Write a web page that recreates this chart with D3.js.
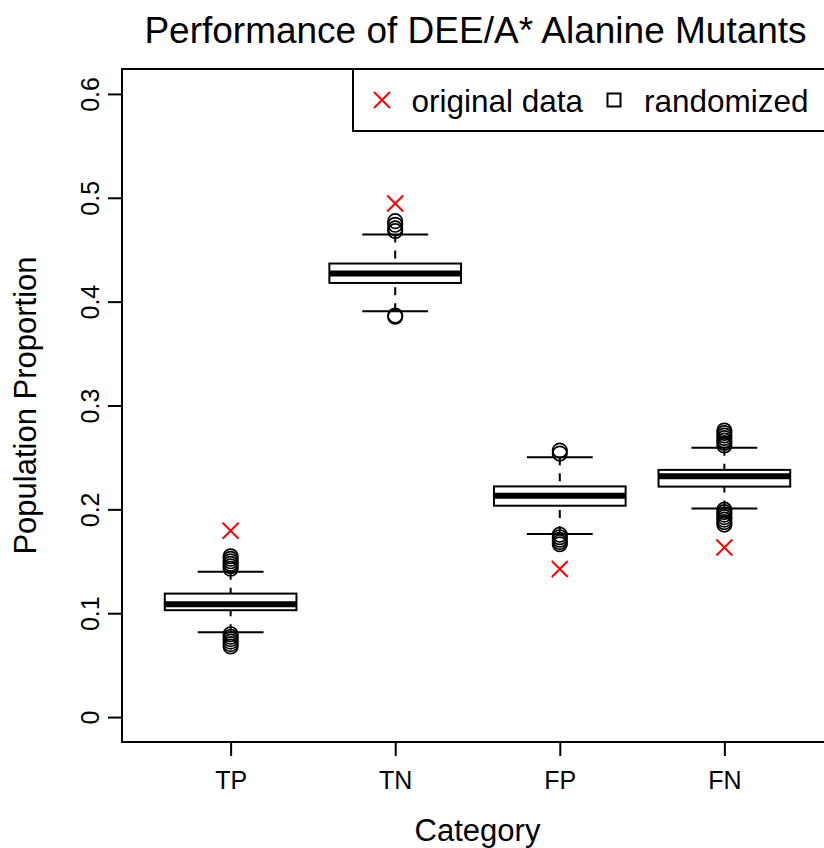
<!DOCTYPE html>
<html>
<head>
<meta charset="utf-8">
<script src="https://cdn.jsdelivr.net/npm/d3@7"></script>
<style>
  body { margin: 0; background: #fff; }
  svg { display: block; font-family: "Liberation Sans", Arial, Helvetica, sans-serif; }
</style>
</head>
<body>
<svg id="chart" width="824" height="848"></svg>
<script>
// Box-plot summary of the randomized populations, one entry per category
const categories    = ["TP", "TN", "FP", "FN"];
const lowerWhisker  = [0.0817, 0.3907, 0.1762, 0.2009];
const lowerQuartile = [0.1029, 0.4180, 0.2035, 0.2219];
const medians       = [0.1087, 0.4270, 0.2132, 0.2318];
const upperQuartile = [0.1189, 0.4367, 0.2221, 0.2380];
const upperWhisker  = [0.1399, 0.4647, 0.2501, 0.2592];

// Randomized runs falling outside the whiskers
const outliersTP = [0.1428, 0.1452, 0.1476, 0.1500, 0.1524, 0.1548,
                    0.0798, 0.0774, 0.0750, 0.0726, 0.0702, 0.0680];
const outliersTN = [0.4775, 0.4740, 0.4705, 0.4680, 0.3866, 0.3855];
const outliersFP = [0.2566, 0.2537, 0.1756, 0.1732, 0.1708, 0.1685, 0.1664];
const outliersFN = [0.2759, 0.2735, 0.2711, 0.2687, 0.2663, 0.2639, 0.2615,
                    0.1997, 0.1973, 0.1949, 0.1925, 0.1901, 0.1877, 0.1853];
const outliers = [outliersTP, outliersTN, outliersFP, outliersFN];

// Proportions observed in the original (non-randomized) data
const originalData = [0.1794, 0.4945, 0.1425, 0.1633];

const yTicks = [0, 0.1, 0.2, 0.3, 0.4, 0.5, 0.6];
const yTickLabels = ["0", "0.1", "0.2", "0.3", "0.4", "0.5", "0.6"];

// ---- layout ----
const plot = { left: 122, right: 833, top: 69, bottom: 742 };
const svg = d3.select("#chart");

const x = d3.scaleLinear().domain([0.34, 4.66]).range([plot.left, plot.right]);
const y = d3.scaleLinear().domain([-0.024, 0.624]).range([plot.bottom, plot.top]);
const unit = x(1) - x(0);
const boxHalf = 0.4 * unit;
const capHalf = 0.2 * unit;

// ---- axes ----
const yAxis = svg.append("g")
  .attr("transform", `translate(${plot.left},0)`)
  .call(d3.axisLeft(y).tickValues(yTicks).tickSize(14)
    .tickFormat((d, i) => yTickLabels[i]));
yAxis.select(".domain").remove();
yAxis.selectAll(".tick line").attr("stroke", "#000").attr("stroke-width", 2);
yAxis.selectAll(".tick text")
  .attr("x", 0).attr("y", -23).attr("dy", 0)
  .attr("transform", "rotate(-90)")
  .attr("text-anchor", "middle")
  .attr("fill", "#000")
  .style("font-size", "25px")
  .style("font-family", "inherit");

const xAxis = svg.append("g")
  .attr("transform", `translate(0,${plot.bottom})`)
  .call(d3.axisBottom(x).tickValues(categories.map((c, i) => i + 1)).tickSize(14)
    .tickFormat((d, i) => categories[i]));
xAxis.select(".domain").remove();
xAxis.selectAll(".tick line").attr("stroke", "#000").attr("stroke-width", 2);
xAxis.selectAll(".tick text")
  .attr("y", 47).attr("dy", 0)
  .attr("fill", "#000")
  .style("font-size", "25px")
  .style("font-family", "inherit");

// ---- boxes ----
const stats = categories.map((c, i) => ({
  cat: c, pos: i + 1,
  lo: lowerWhisker[i], q1: lowerQuartile[i], med: medians[i],
  q3: upperQuartile[i], hi: upperWhisker[i]
}));

const g = svg.append("g");
const boxes = g.selectAll("g.box").data(stats).join("g").attr("class", "box");

// dashed whiskers run from the whisker end towards the box
boxes.append("line")
  .attr("x1", d => x(d.pos)).attr("x2", d => x(d.pos))
  .attr("y1", d => y(d.hi)).attr("y2", d => y(d.q3))
  .attr("stroke", "#000").attr("stroke-width", 2).attr("stroke-dasharray", "8,8");
boxes.append("line")
  .attr("x1", d => x(d.pos)).attr("x2", d => x(d.pos))
  .attr("y1", d => y(d.lo)).attr("y2", d => y(d.q1))
  .attr("stroke", "#000").attr("stroke-width", 2).attr("stroke-dasharray", "8,8");

// staples
boxes.append("line")
  .attr("x1", d => x(d.pos) - capHalf).attr("x2", d => x(d.pos) + capHalf)
  .attr("y1", d => y(d.hi)).attr("y2", d => y(d.hi))
  .attr("stroke", "#000").attr("stroke-width", 2);
boxes.append("line")
  .attr("x1", d => x(d.pos) - capHalf).attr("x2", d => x(d.pos) + capHalf)
  .attr("y1", d => y(d.lo)).attr("y2", d => y(d.lo))
  .attr("stroke", "#000").attr("stroke-width", 2);

// interquartile box
boxes.append("rect")
  .attr("x", d => x(d.pos) - boxHalf)
  .attr("width", 2 * boxHalf)
  .attr("y", d => y(d.q3))
  .attr("height", d => y(d.q1) - y(d.q3))
  .attr("fill", "#fff").attr("stroke", "#000").attr("stroke-width", 2);

// median
boxes.append("line")
  .attr("x1", d => x(d.pos) - boxHalf).attr("x2", d => x(d.pos) + boxHalf)
  .attr("y1", d => y(d.med)).attr("y2", d => y(d.med))
  .attr("stroke", "#000").attr("stroke-width", 6);

// outlier circles
const outlierPts = outliers.flatMap((arr, i) => arr.map(v => ({ pos: i + 1, v })));
g.selectAll("circle.out").data(outlierPts).join("circle")
  .attr("class", "out")
  .attr("cx", d => x(d.pos)).attr("cy", d => y(d.v)).attr("r", 7.2)
  .attr("fill", "none").attr("stroke", "#000").attr("stroke-width", 1.7);

// original data crosses
const crossPath = s => `M${-s},${-s}L${s},${s}M${-s},${s}L${s},${-s}`;
g.selectAll("path.orig").data(originalData).join("path")
  .attr("class", "orig")
  .attr("transform", (d, i) => `translate(${x(i + 1)},${y(d)})`)
  .attr("d", crossPath(8))
  .attr("fill", "none").attr("stroke", "#ff0000").attr("stroke-width", 2);

// ---- frame ----
svg.append("rect")
  .attr("x", plot.left).attr("y", plot.top)
  .attr("width", plot.right - plot.left).attr("height", plot.bottom - plot.top)
  .attr("fill", "none").attr("stroke", "#000").attr("stroke-width", 2);

// ---- legend ----
const lg = svg.append("g");
lg.append("rect")
  .attr("x", 353).attr("y", plot.top).attr("width", plot.right - 353).attr("height", 62)
  .attr("fill", "#fff").attr("stroke", "#000").attr("stroke-width", 2);
lg.append("path")
  .attr("transform", "translate(382,100)")
  .attr("d", crossPath(8))
  .attr("fill", "none").attr("stroke", "#ff0000").attr("stroke-width", 2);
lg.append("text").attr("x", 411.5).attr("y", 111.5)
  .style("font-size", "31.5px").text("original data");
lg.append("rect").attr("x", 607.5).attr("y", 93.5).attr("width", 13).attr("height", 13)
  .attr("fill", "none").attr("stroke", "#000").attr("stroke-width", 2);
lg.append("text").attr("x", 644).attr("y", 111.5)
  .style("font-size", "31.5px").text("randomized");

// ---- titles ----
svg.append("text")
  .attr("x", (plot.left + plot.right) / 2 - 2).attr("y", 43)
  .attr("text-anchor", "middle").style("font-size", "37px")
  .text("Performance of DEE/A* Alanine Mutants");
svg.append("text")
  .attr("x", (plot.left + plot.right) / 2).attr("y", 841)
  .attr("text-anchor", "middle").style("font-size", "31px")
  .text("Category");
svg.append("text")
  .attr("transform", `translate(36,${(plot.top + plot.bottom) / 2}) rotate(-90)`)
  .attr("text-anchor", "middle").style("font-size", "31px")
  .text("Population Proportion");
</script>
</body>
</html>
